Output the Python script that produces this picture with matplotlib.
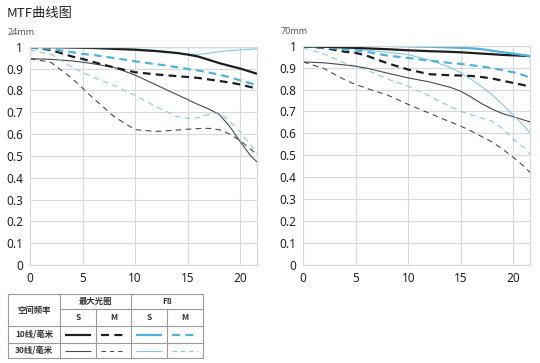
import matplotlib.pyplot as plt
from matplotlib.lines import Line2D

# ---------------- data ----------------
# 24mm, x in mm from image centre
w_x = [0, 2, 4, 5, 6, 8, 10, 12, 14, 15, 16, 17, 18, 19, 20, 21, 21.6]
w_max_s10 = [0.999, 0.998, 0.996, 0.995, 0.994, 0.99, 0.986, 0.98, 0.971, 0.964, 0.955, 0.94, 0.925, 0.912, 0.9, 0.885, 0.876]
w_max_m10 = [0.997, 0.985, 0.955, 0.944, 0.93, 0.905, 0.883, 0.873, 0.865, 0.861, 0.857, 0.85, 0.843, 0.836, 0.827, 0.815, 0.808]
w_max_s30 = [0.945, 0.942, 0.935, 0.929, 0.922, 0.905, 0.87, 0.825, 0.78, 0.758, 0.735, 0.715, 0.69, 0.635, 0.565, 0.5, 0.472]
w_max_m30 = [0.945, 0.928, 0.855, 0.81, 0.765, 0.68, 0.62, 0.612, 0.618, 0.622, 0.625, 0.626, 0.62, 0.6, 0.57, 0.53, 0.505]
w_f8_s10 = [1.0, 1.0, 1.0, 1.0, 1.0, 1.0, 1.0, 1.0, 1.0, 1.0, 1.0, 1.0, 1.0, 1.0, 1.0, 1.0, 1.0]
w_f8_s30 = [1.0, 1.0, 0.999, 0.998, 0.997, 0.994, 0.99, 0.983, 0.972, 0.966, 0.965, 0.97, 0.977, 0.982, 0.985, 0.988, 0.99]
w_f8_m10 = [0.997, 0.99, 0.975, 0.967, 0.962, 0.948, 0.933, 0.92, 0.906, 0.898, 0.891, 0.882, 0.872, 0.86, 0.846, 0.832, 0.823]
w_f8_m30 = [0.985, 0.965, 0.905, 0.883, 0.86, 0.822, 0.777, 0.725, 0.68, 0.672, 0.675, 0.69, 0.698, 0.66, 0.61, 0.55, 0.512]

# 70mm
t_x = [0, 2, 4, 5, 6, 8, 10, 12, 14, 15, 16, 17, 18, 19, 20, 21, 21.6]
t_max_s10 = [0.997, 0.995, 0.992, 0.99, 0.988, 0.984, 0.979, 0.975, 0.972, 0.97, 0.967, 0.964, 0.961, 0.958, 0.956, 0.954, 0.952]
t_max_m10 = [0.997, 0.99, 0.972, 0.967, 0.955, 0.92, 0.891, 0.87, 0.865, 0.864, 0.862, 0.857, 0.85, 0.84, 0.83, 0.82, 0.812]
t_max_s30 = [0.926, 0.922, 0.912, 0.906, 0.898, 0.875, 0.853, 0.835, 0.81, 0.792, 0.765, 0.735, 0.71, 0.69, 0.676, 0.661, 0.652]
t_max_m30 = [0.926, 0.895, 0.843, 0.823, 0.806, 0.775, 0.732, 0.692, 0.652, 0.633, 0.61, 0.585, 0.56, 0.527, 0.49, 0.45, 0.421]
t_f8_s10 = [1.0, 1.0, 1.0, 1.0, 1.0, 0.999, 0.997, 0.995, 0.992, 0.99, 0.988, 0.984, 0.977, 0.97, 0.964, 0.957, 0.952]
t_f8_s30 = [0.997, 0.993, 0.988, 0.985, 0.98, 0.97, 0.959, 0.935, 0.9, 0.876, 0.846, 0.812, 0.775, 0.73, 0.682, 0.635, 0.6]
t_f8_m10 = [0.997, 0.992, 0.983, 0.979, 0.972, 0.955, 0.944, 0.932, 0.921, 0.917, 0.911, 0.905, 0.897, 0.888, 0.879, 0.865, 0.853]
t_f8_m30 = [0.99, 0.962, 0.92, 0.906, 0.89, 0.848, 0.815, 0.77, 0.722, 0.7, 0.685, 0.67, 0.655, 0.62, 0.573, 0.535, 0.505]

panel_titles = ["24mm", "70mm"]
x_ticks = [0, 5, 10, 15, 20]
y_ticks = [0, 0.1, 0.2, 0.3, 0.4, 0.5, 0.6, 0.7, 0.8, 0.9, 1]
y_tick_labels = ["0", "0.1", "0.2", "0.3", "0.4", "0.5", "0.6", "0.7", "0.8", "0.9", "1"]

# ---------------- styles ----------------
BLACK = "#1e1e1e"
GREY = "#4a4a4a"
BLUE = "#4fb3dd"
LBLUE = "#86c9e6"
GRID = "#d8d8d8"

styles = {
    "max_s10": dict(color=BLACK, lw=1.6, ls="-"),
    "max_m10": dict(color=BLACK, lw=1.6, ls=(0, (3.5, 2.3))),
    "max_s30": dict(color=GREY, lw=0.8, ls="-"),
    "max_m30": dict(color=GREY, lw=0.8, ls=(0, (5, 4))),
    "f8_s10": dict(color=BLUE, lw=1.6, ls="-"),
    "f8_m10": dict(color=BLUE, lw=1.6, ls=(0, (3.5, 2.3))),
    "f8_s30": dict(color=LBLUE, lw=0.8, ls="-"),
    "f8_m30": dict(color=LBLUE, lw=0.8, ls=(0, (5, 4))),
}

plt.rcParams['font.family'] = ['Noto Sans CJK SC', 'DejaVu Sans']

fig = plt.figure(figsize=(5.4, 3.63), dpi=100)

panels = [
    (w_x, dict(max_s30=w_max_s30, max_m30=w_max_m30, f8_m30=w_f8_m30, f8_s30=w_f8_s30,
               max_m10=w_max_m10, f8_m10=w_f8_m10, max_s10=w_max_s10, f8_s10=w_f8_s10),
     [30 / 540, 98 / 363, 227 / 540, 218.3 / 363]),
    (t_x, dict(max_m30=t_max_m30, f8_m30=t_f8_m30, max_s30=t_max_s30, f8_s30=t_f8_s30,
               max_m10=t_max_m10, f8_m10=t_f8_m10, max_s10=t_max_s10, f8_s10=t_f8_s10),
     [303.3 / 540, 98 / 363, 227 / 540, 219.3 / 363]),
]

for i, (xs, series, rect) in enumerate(panels):
    ax = fig.add_axes(rect)
    for key, ys in series.items():
        ax.plot(xs, ys, solid_capstyle="butt", dash_capstyle="butt", **styles[key])
    ax.set_xlim(0, xs[-1])
    ax.set_ylim(0, 1)
    ax.set_xticks(x_ticks)
    ax.set_yticks(y_ticks)
    ax.set_yticklabels(y_tick_labels)
    ax.grid(True, color=GRID, lw=0.8)
    ax.set_axisbelow(True)
    for sp in ax.spines.values():
        sp.set_color(GRID)
        sp.set_linewidth(0.8)
    ax.tick_params(length=0, labelsize=8.5, labelcolor="#222222", pad=5)
    for lab in ax.get_xticklabels() + ax.get_yticklabels():
        lab.set_fontfamily(['Noto Sans', 'DejaVu Sans'])
    ax.text(-0.1, 1.045, panel_titles[i], transform=ax.transAxes,
            fontsize=6.5, color="#555555", ha="left", va="bottom",
            family=['Noto Sans', 'DejaVu Sans'])

fig.text(7 / 540, 1 - 14 / 363, "MTF曲线图", fontsize=9.5, color="#222222",
         ha="left", va="center", fontweight="medium")

# ---------------- legend table ----------------
tab = fig.add_axes([0, 0, 1, 1])
tab.set_xlim(0, 540)
tab.set_ylim(363, 0)
tab.axis("off")

cols = [8, 60, 96, 131, 167, 203]
rows = [294, 309, 326, 343, 358]
BORDER = "#9a9a9a"
# outer box
tab.plot([cols[0], cols[-1], cols[-1], cols[0], cols[0]],
         [rows[0], rows[0], rows[-1], rows[-1], rows[0]], color=BORDER, lw=0.8)
# horizontal lines
tab.plot([cols[1], cols[-1]], [rows[1], rows[1]], color=BORDER, lw=0.8)
tab.plot([cols[0], cols[-1]], [rows[2], rows[2]], color=BORDER, lw=0.8)
tab.plot([cols[0], cols[-1]], [rows[3], rows[3]], color=BORDER, lw=0.8)
# vertical lines
tab.plot([cols[1], cols[1]], [rows[0], rows[-1]], color=BORDER, lw=0.8)
tab.plot([cols[3], cols[3]], [rows[0], rows[-1]], color=BORDER, lw=0.8)
tab.plot([cols[2], cols[2]], [rows[1], rows[-1]], color=BORDER, lw=0.8)
tab.plot([cols[4], cols[4]], [rows[1], rows[-1]], color=BORDER, lw=0.8)

txt = dict(fontsize=6, color="#333333", ha="center", va="center", fontweight="bold")
tab.text((cols[0] + cols[1]) / 2, (rows[0] + rows[2]) / 2, "空间频率", **txt)
tab.text((cols[1] + cols[3]) / 2, (rows[0] + rows[1]) / 2, "最大光圈", **txt)
tab.text((cols[3] + cols[5]) / 2, (rows[0] + rows[1]) / 2, "F8", **txt)
for j, lab in enumerate(["S", "M", "S", "M"]):
    tab.text((cols[j + 1] + cols[j + 2]) / 2, (rows[1] + rows[2]) / 2, lab, **txt)
tab.text((cols[0] + cols[1]) / 2, (rows[2] + rows[3]) / 2, "10线/毫米", **txt)
tab.text((cols[0] + cols[1]) / 2, (rows[3] + rows[4]) / 2, "30线/毫米", **txt)

legend_keys = [["max_s10", "max_m10", "f8_s10", "f8_m10"],
               ["max_s30", "max_m30", "f8_s30", "f8_m30"]]
for r, keys in enumerate(legend_keys):
    yc = (rows[r + 2] + rows[r + 3]) / 2
    for j, key in enumerate(keys):
        x0, x1 = cols[j + 1] + 5, cols[j + 2] - 5
        st = dict(styles[key])
        if "m" in key.split("_")[1]:
            st["ls"] = (0, (3.6, 2.4)) if r == 0 else (0, (4, 3.5))
        tab.add_line(Line2D([x0, x1], [yc, yc], dash_capstyle="butt", solid_capstyle="butt", **st))

plt.savefig("out.png", dpi=100)
